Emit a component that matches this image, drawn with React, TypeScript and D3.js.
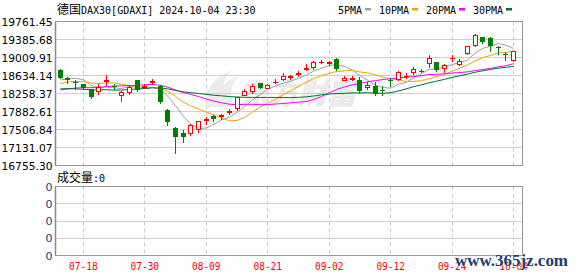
import React from "react";
import * as d3 from "d3";

// ---------- data ----------
const dates = [
  "07-15","07-16","07-17","07-18","07-19","07-22","07-23","07-24","07-25","07-26","07-29","07-30","07-31",
  "08-01","08-02","08-05","08-06","08-07","08-08","08-09","08-12","08-13","08-14","08-15","08-16","08-19","08-20","08-21","08-22","08-23","08-26","08-27","08-28","08-29","08-30",
  "09-02","09-03","09-04","09-05","09-06","09-09","09-10","09-11","09-12","09-13","09-16","09-17","09-18","09-19","09-20","09-23","09-24","09-25","09-26","09-27","09-30",
  "10-01","10-02","10-03","10-04",
];
const opens = [
  18740,18590,18500,18455,18355,18306,18509,18410,18235,18280,18545,18400,18490,
  18420,17905,17535,17430,17430,17520,17700,17799,17790,17870,17966,18237,18306,18473,18377,18490,18551,18600,18670,18770,18808,18910,
  18900,18983,18545,18570,18530,18390,18410,18340,18535,18565,18625,18703,18730,18900,18912,18795,18995,18864,19108,19280,19434,
  19420,19225,19080,18968,
];
const highs = [
  18760,18605,18530,18465,18360,18460,18655,18460,18305,18405,18550,18460,18570,
  18435,17940,17560,17495,17632,17684,17765,17810,17835,17940,18185,18355,18455,18480,18460,18565,18680,18635,18725,18870,18947,18960,
  18947,19005,18634,18634,18613,18495,18495,18425,18590,18725,18680,18807,18775,19052,18926,18880,19052,18985,19260,19500,19440,
  19430,19260,19120,19156,
];
const lows = [
  18585,18470,18360,18360,18160,18240,18446,18360,18105,18250,18310,18370,18450,
  18070,17610,17020,17240,17402,17450,17625,17690,17730,17835,17905,18217,18270,18370,18363,18475,18530,18565,18634,18755,18775,18890,
  18843,18740,18530,18530,18285,18355,18237,18217,18405,18530,18585,18670,18700,18822,18718,18700,18933,18843,19087,19260,19320,
  19156,19087,18968,18947,
];
const closes = [
  18591,18530,18480,18370,18175,18404,18544,18390,18295,18390,18330,18420,18510,
  18085,17660,17340,17355,17605,17674,17720,17730,17810,17885,18175,18321,18425,18377,18446,18500,18634,18615,18680,18782,18926,18926,
  18915,18760,18586,18580,18306,18446,18252,18330,18520,18703,18634,18760,18720,19003,18739,18843,19005,18947,19246,19475,19330,
  19240,19215,19070,19141,
];
// closes of the 29 sessions before the visible window (needed so the moving averages start at the left edge)
const priorCloses = [
  18405,18572,18653,18557,18494,18369,18630,18265,18002,18068,18131,18067,18254,18164,18325,18177,18155,18211,18235,
  18290,18164,18374,18450,18475,18472,18430,18407,18534,18748,
];
const tickDates = ["07-18","07-30","08-09","08-21","09-02","09-12","09-24","10-04"];
const yTickLabels = ["19761.45","19385.68","19009.91","18634.14","18258.37","17882.61","17506.84","17131.07","16755.30"];
const volTickLabels = ["0","0","0","0","0"];
const maPeriods = [5, 10, 20, 30];
const maNames = ["5PMA", "10PMA", "20PMA", "30PMA"];
const maColors = ["#a0a0a0", "#f5a300", "#ff00ff", "#006f35"];

const yMin = 16755.30;
const yMax = 19761.45;

// ---------- layout ----------
const W = 578, H = 276;
const L = 55.5, R = 522.5, T = 21.5, B = 165.5;
const VT = 186.5, VB = 255.5;
const UP = "#ff0000";
const DOWN = "#008000";
const MONO = "'DejaVu Sans Mono', monospace";
const CJK = "'Noto Sans CJK SC', sans-serif";

export default function App() {
  const idx = d3.range(dates.length);
  const x = d3.scaleLinear().domain([0, dates.length - 1]).range([60.3, 513.6]);
  const y = d3.scaleLinear().domain([yMin, yMax]).range([B, T]);
  const yTicks = d3.range(yTickLabels.length).map((k) => yMax - (k * (yMax - yMin)) / (yTickLabels.length - 1));
  const vy = d3.scaleLinear().domain([0, volTickLabels.length - 1]).range([VB, VT]);

  const allCloses = priorCloses.concat(closes);
  const off = priorCloses.length;
  const mas = maPeriods.map((p) =>
    idx.map((i) => {
      const end = off + i + 1;
      const start = Math.max(0, end - p);
      return d3.mean(allCloses.slice(start, end)) as number;
    })
  );
  const line = d3
    .line<number>()
    .x((_, i) => x(i))
    .y((v) => y(v));

  const snap = (v: number) => Math.round(v - 0.5) + 0.5;

  // legend layout
  let lx = 338;
  const legend = maNames.map((n, k) => {
    const tx = lx;
    const tw = n.length * 6;
    const bx = tx + tw + 3;
    lx = bx + 6 + 8;
    return { n, tx, bx, c: maColors[k] };
  });

  return (
    <svg
      width={W}
      height={H}
      style={{ position: "absolute", left: 0, top: 0, background: "#fff" }}
      xmlns="http://www.w3.org/2000/svg"
    >
      <rect x={0} y={0} width={W} height={H} fill="#fff" />

      {/* watermark logo */}
      <g fill="#ebebeb" opacity={0.95}>
        <path d="M206,108 C204,92 212,78 232,70 C222,80 220,92 226,104 Z" />
        <path d="M214,108 C214,94 222,82 238,76 C230,86 230,96 234,106 Z" />
        <text x={240} y={104} fontFamily={CJK} fontWeight={900} fontSize={29} fontStyle="italic" fill="#e9e9e9">
          东方财富
        </text>
      </g>

      {/* title */}
      <text x={57} y={13.5} fontSize={10} fill="#000">
        <tspan fontFamily={CJK} fontSize={12}>德国</tspan>
        <tspan fontFamily={MONO}>DAX30[GDAXI] 2024-10-04 23:30</tspan>
      </text>

      {/* legend */}
      {legend.map((g) => (
        <g key={g.n}>
          <text x={g.tx} y={13.5} fontFamily={MONO} fontSize={10} fill="#000">{g.n}</text>
          <rect x={g.bx} y={8} width={6} height={2.5} fill={g.c} />
        </g>
      ))}

      {/* main grid */}
      {yTicks.slice(1, -1).map((v, k) => (
        <line key={"hg" + k} x1={L} x2={R} y1={snap(y(v))} y2={snap(y(v))} stroke="#cfcfcf" />
      ))}
      {tickDates.map((d) => {
        const xx = snap(x(dates.indexOf(d)));
        return (
          <g key={"vg" + d}>
            <line x1={xx} x2={xx} y1={T} y2={B} stroke="#cdcdcd" strokeDasharray="4,3" />
            <line x1={xx} x2={xx} y1={VT} y2={VB} stroke="#cdcdcd" strokeDasharray="4,3" />
          </g>
        );
      })}

      {/* y labels */}
      {yTicks.map((v, k) => (
        <text
          key={"yl" + k}
          x={1.5}
          y={y(v) + 4}
          fontFamily="'DejaVu Sans', sans-serif"
          fontSize={11}
          textLength={51}
          lengthAdjust="spacingAndGlyphs"
          fill="#000"
        >
          {yTickLabels[k]}
        </text>
      ))}

      {/* moving averages */}
      {mas.map((m, k) => (
        <path key={"ma" + k} d={line(m) || ""} fill="none" stroke={maColors[k]} strokeWidth={1} />
      ))}

      {/* candles */}
      {idx.map((i) => {
        const cx = snap(x(i));
        const o = opens[i], c = closes[i], h = highs[i], l = lows[i];
        const up = c >= o;
        const yo = Math.round(y(o)), yc = Math.round(y(c));
        const yh = Math.round(y(h)), yl = Math.round(y(l));
        const top = Math.min(yo, yc), bot = Math.max(yo, yc);
        if (up) {
          return (
            <g key={"c" + i} stroke={UP} fill="#fff">
              <line x1={cx} x2={cx} y1={yh} y2={top} />
              <line x1={cx} x2={cx} y1={bot} y2={yl + 1} />
              {bot - top >= 1 ? (
                <rect x={cx - 2} y={top + 0.5} width={4} height={bot - top} />
              ) : (
                <line x1={cx - 2.5} x2={cx + 2.5} y1={top + 0.5} y2={top + 0.5} />
              )}
            </g>
          );
        }
        return (
          <g key={"c" + i}>
            <line x1={cx} x2={cx} y1={yh} y2={yl + 1} stroke={DOWN} />
            <rect x={cx - 2.5} y={top} width={5} height={Math.max(1, bot - top)} fill={DOWN} />
          </g>
        );
      })}

      {/* main border */}
      <rect x={L} y={T} width={R - L} height={B - T} fill="none" stroke="#9a9a9a" />
      <line x1={L} x2={L} y1={T} y2={B} stroke="#8a8a8a" strokeWidth={1.5} />

      {/* volume panel */}
      <text x={57} y={182} fontSize={10} fill="#000">
        <tspan fontFamily={CJK} fontSize={12}>成交量</tspan>
        <tspan fontFamily={MONO}>:0</tspan>
      </text>
      {volTickLabels.slice(1, -1).map((_, k) => (
        <line key={"vh" + k} x1={L} x2={R} y1={snap(vy(k + 1))} y2={snap(vy(k + 1))} stroke="#cfcfcf" />
      ))}
      {volTickLabels.map((t, k) => (
        <text
          key={"vl" + k}
          x={52.5}
          y={vy(k) + 4}
          textAnchor="end"
          fontFamily="'DejaVu Sans', sans-serif"
          fontSize={11}
          fill="#1e3a7a"
        >
          {t}
        </text>
      ))}
      <rect x={L} y={VT} width={R - L} height={VB - VT} fill="none" stroke="#9a9a9a" />
      <line x1={L} x2={L} y1={VT} y2={VB} stroke="#8a8a8a" strokeWidth={1.5} />

      {/* x labels */}
      {tickDates.map((d) => (
        <text
          key={"xl" + d}
          x={x(dates.indexOf(d))}
          y={270}
          textAnchor="middle"
          fontFamily={MONO}
          fontSize={11}
          textLength={28.5}
          lengthAdjust="spacingAndGlyphs"
          fill="#ff0000"
        >
          {d}
        </text>
      ))}

      {/* site watermark */}
      <text
        x={455}
        y={266}
        fontFamily="'Liberation Serif', serif"
        fontWeight="bold"
        fontSize={17}
        textLength={113}
        lengthAdjust="spacingAndGlyphs"
        fill="#1f3c72"
        stroke="#ffffff"
        strokeWidth={0.6}
        paintOrder="stroke"
      >
        www.365jz.com
      </text>
    </svg>
  );
}
